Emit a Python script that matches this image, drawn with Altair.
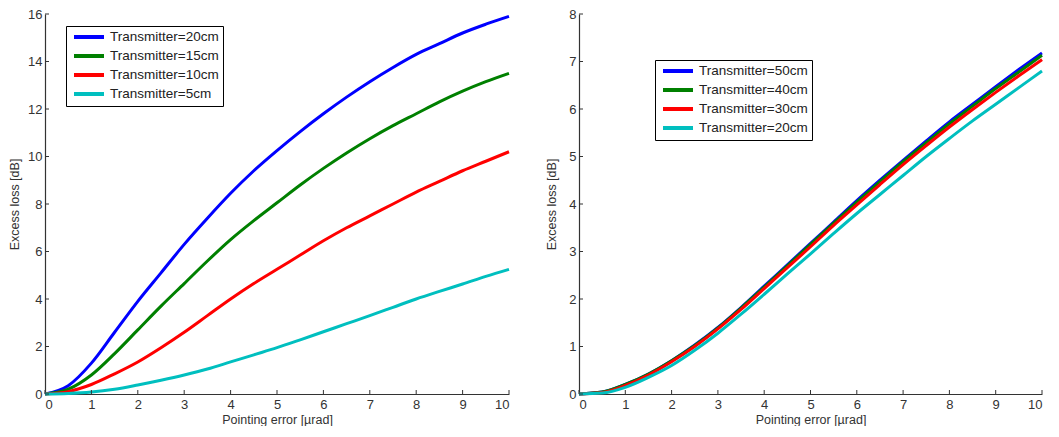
import altair as alt
import pandas as pd

# ---------------- data ----------------
x_vals = [0, 0.5, 1, 1.5, 2, 2.5, 3, 3.5, 4, 4.5, 5, 5.5, 6, 6.5, 7, 7.5, 8, 8.5, 9, 9.5, 10]

left_series = ["Transmitter=20cm", "Transmitter=15cm", "Transmitter=10cm", "Transmitter=5cm"]
left_20cm = [0, 0.35, 1.3, 2.6, 3.9, 5.1, 6.3, 7.4, 8.45, 9.4, 10.25, 11.05, 11.8, 12.5, 13.15, 13.75, 14.3, 14.75, 15.2, 15.57, 15.9]
left_15cm = [0, 0.2, 0.8, 1.7, 2.7, 3.7, 4.65, 5.6, 6.5, 7.3, 8.05, 8.8, 9.5, 10.15, 10.75, 11.3, 11.8, 12.3, 12.75, 13.15, 13.5]
left_10cm = [0, 0.1, 0.4, 0.85, 1.35, 1.95, 2.6, 3.3, 4.0, 4.65, 5.25, 5.85, 6.45, 7.0, 7.5, 8.0, 8.5, 8.95, 9.4, 9.8, 10.2]
left_5cm = [0, 0.02, 0.08, 0.2, 0.38, 0.58, 0.8, 1.05, 1.35, 1.65, 1.95, 2.28, 2.62, 2.96, 3.3, 3.65, 4.0, 4.32, 4.63, 4.95, 5.25]

right_series = ["Transmitter=50cm", "Transmitter=40cm", "Transmitter=30cm", "Transmitter=20cm"]
right_50cm = [0, 0.04, 0.2, 0.42, 0.7, 1.03, 1.4, 1.82, 2.27, 2.72, 3.17, 3.62, 4.07, 4.5, 4.92, 5.33, 5.73, 6.1, 6.47, 6.83, 7.18]
right_40cm = [0, 0.04, 0.2, 0.42, 0.7, 1.02, 1.39, 1.81, 2.25, 2.7, 3.15, 3.6, 4.04, 4.47, 4.89, 5.29, 5.69, 6.06, 6.43, 6.78, 7.13]
right_30cm = [0, 0.03, 0.18, 0.4, 0.68, 1.0, 1.37, 1.78, 2.22, 2.66, 3.1, 3.55, 3.98, 4.41, 4.83, 5.23, 5.62, 5.99, 6.35, 6.7, 7.04]
right_20cm = [0, 0.02, 0.14, 0.35, 0.6, 0.92, 1.28, 1.68, 2.1, 2.53, 2.95, 3.38, 3.8, 4.2, 4.6, 5.0, 5.38, 5.75, 6.1, 6.45, 6.8]

x_ticks = [0, 1, 2, 3, 4, 5, 6, 7, 8, 9, 10]
left_y_ticks = [0, 2, 4, 6, 8, 10, 12, 14, 16]
right_y_ticks = [0, 1, 2, 3, 4, 5, 6, 7, 8]

colors = ["#0000FF", "#008000", "#FF0000", "#00BFBF"]

X_TITLE = "Pointing error [µrad]"
Y_TITLE = "Excess loss [dB]"


def make_df(series, values):
    rows = []
    for s, vals in zip(series, values):
        for xv, yv in zip(x_vals, vals):
            rows.append({"x": xv, "y": yv, "series": s})
    return pd.DataFrame(rows)


def panel(df, series, yticks, ymax, lx, ly, W, H, ytitle_pad):
    xscale = alt.Scale(domain=[0, 10], nice=False, zero=False)
    yscale = alt.Scale(domain=[0, ymax], nice=False, zero=False)
    xaxis = alt.Axis(values=x_ticks, title=X_TITLE, labelPadding=4, titlePadding=2)
    yaxis = alt.Axis(values=yticks, title=Y_TITLE, labelPadding=3, titlePadding=ytitle_pad)
    legend = alt.Legend(
        orient="none", legendX=lx, legendY=ly,
        strokeColor="black", fillColor="white", padding=4,
        symbolType="M-3,0H3", symbolSize=100, symbolStrokeWidth=4,
        symbolOffset=12, labelOffset=14, rowPadding=3,
        labelFont="Liberation Sans", labelFontSize=13.5, labelColor="#222",
    )
    color = alt.Color("series:N", scale=alt.Scale(domain=series, range=colors),
                      legend=legend, title=None)
    base = alt.Chart(df)
    layers = []
    for s in series:
        layers.append(
            base.transform_filter(alt.datum.series == s)
            .mark_line(strokeWidth=3, interpolate="monotone")
            .encode(
                x=alt.X("x:Q", scale=xscale, axis=xaxis),
                y=alt.Y("y:Q", scale=yscale, axis=yaxis),
                color=color,
            )
        )
    xt = alt.Chart(pd.DataFrame({"t": x_ticks})).mark_rule(color="#333", strokeWidth=1).encode(
        x=alt.X("t:Q", scale=xscale, axis=xaxis),
        y=alt.value(H), y2=alt.value(H - 4),
    )
    yt = alt.Chart(pd.DataFrame({"t": yticks})).mark_rule(color="#333", strokeWidth=1).encode(
        y=alt.Y("t:Q", scale=yscale, axis=yaxis),
        x=alt.value(0), x2=alt.value(4),
    )
    return alt.layer(*layers, xt, yt).properties(width=W, height=H)


left_df = make_df(left_series, [left_20cm, left_15cm, left_10cm, left_5cm])
right_df = make_df(right_series, [right_50cm, right_40cm, right_30cm, right_20cm])

left = panel(left_df, left_series, left_y_ticks, 16, 21, 12, 464, 380, 6)
right = panel(right_df, right_series, right_y_ticks, 8, 76, 46, 463, 380, 10)

chart = (
    alt.hconcat(left, right, spacing=30)
    .resolve_scale(color="independent")
    .resolve_legend(color="independent")
    .configure_view(stroke=None)
    .configure_axis(
        grid=False, tickSize=0,
        labelFont="Liberation Sans", labelFontSize=13, labelColor="#333",
        titleFont="Liberation Sans", titleFontSize=12.5, titleFontWeight="normal", titleColor="#333",
        domainColor="#333", domainWidth=1.2,
    )
    .properties(background="white", padding=0)
)

chart.save("out.html", embed_options={"renderer": "svg", "actions": False})
